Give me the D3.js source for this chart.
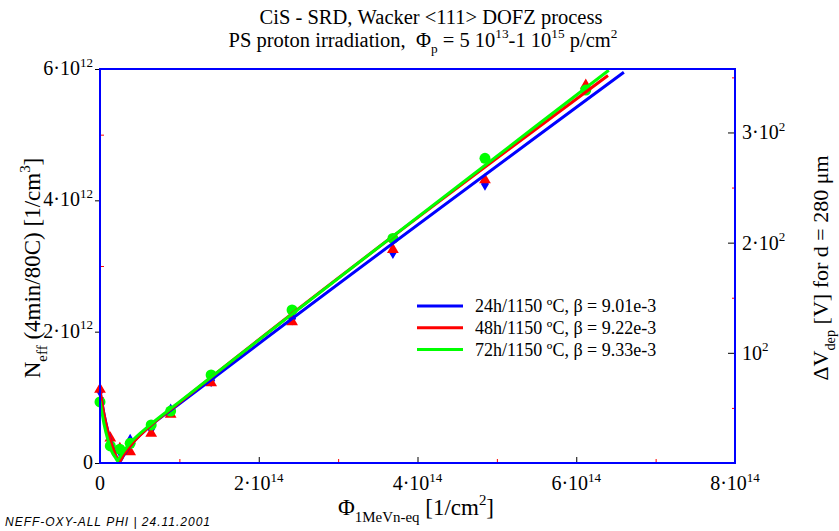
<!DOCTYPE html>
<html>
<head>
<meta charset="utf-8">
<script src="https://cdn.jsdelivr.net/npm/d3@7"></script>
</head>
<body style="margin:0">
<script>
// measured points (fluence in 1/cm2, Neff in 1/cm3)
const fluence = [0, 1.3e13, 2.5e13, 3.8e13, 6.45e13, 8.9e13, 1.4e14, 2.42e14, 3.69e14, 4.85e14, 6.12e14];
const neff24h = [1.10e12, 0.30e12, 0.18e12, 0.34e12, 0.52e12, 0.80e12, 1.26e12, 2.20e12, 3.21e12, 4.25e12, null];
const neff48h = [1.12e12, 0.38e12, 0.22e12, 0.17e12, 0.45e12, 0.74e12, 1.22e12, 2.15e12, 3.25e12, 4.31e12, 5.75e12];
const neff72h = [0.93e12, 0.26e12, 0.21e12, 0.30e12, 0.58e12, 0.79e12, 1.34e12, 2.33e12, 3.42e12, 4.64e12, 5.68e12];

// fit curves
const fit24hX = [0, 5e12, 1e13, 1.5e13, 2e13, 2.45e13, 3e13, 4e13, 6e13, 1e14, 6.6e14];
const fit24hY = [1.10e12, 0.75e12, 0.48e12, 0.27e12, 0.11e12, 0.02e12, 0.12e12, 0.29e12, 0.53e12, 0.90e12, 5.95e12];
const fit48hX = [0, 5e12, 1e13, 1.5e13, 2e13, 2.4e13, 3e13, 4e13, 6e13, 1e14, 6.4e14];
const fit48hY = [1.10e12, 0.74e12, 0.47e12, 0.27e12, 0.11e12, 0.02e12, 0.13e12, 0.29e12, 0.53e12, 0.92e12, 5.90e12];
const fit72hX = [0, 5e12, 1e13, 1.5e13, 2e13, 2.2e13, 2.5e13, 3e13, 4e13, 6e13, 1e14, 6.41e14];
const fit72hY = [0.95e12, 0.60e12, 0.35e12, 0.17e12, 0.07e12, 0.03e12, 0.09e12, 0.18e12, 0.33e12, 0.55e12, 0.93e12, 5.98e12];

const legendLabels = ['24h/1150 ºC, β = 9.01e-3', '48h/1150 ºC, β = 9.22e-3', '72h/1150 ºC, β = 9.33e-3'];

const xMajor = [0, 2e14, 4e14, 6e14, 8e14];
const xMinor = [1e14, 3e14, 5e14, 7e14];
const xTickLabels = [['0'], ['2·10', '14'], ['4·10', '14'], ['6·10', '14'], ['8·10', '14']];
const yMajor = [0, 2e12, 4e12, 6e12];
const yMinor = [1e12, 3e12, 5e12];
const yTickLabels = [['0'], ['2·10', '12'], ['4·10', '12'], ['6·10', '12']];
const vMajor = [100, 200, 300];
const vMinor = [50, 150, 250, 350];
const vTickLabels = [['10', '2'], ['2·10', '2'], ['3·10', '2']];

const voltPerNeff = 5.96e-11; // q d^2 / (2 eps) for d = 280 um

const margin = { top: 69, right: 104, bottom: 68, left: 100 };
const width = 839 - margin.left - margin.right;
const height = 531 - margin.top - margin.bottom;

const svg0 = d3.select('body')
  .append('svg')
  .attr('width', 839)
  .attr('height', 531);

const svg = svg0.append('g')
  .attr('transform', `translate(${margin.left}, ${margin.top})`);

const xScale = d3.scaleLinear().domain([0, 8e14]).range([0, width]);
const yScale = d3.scaleLinear().domain([0, 6e12]).range([height, 0]);
const vScale = d3.scaleLinear().domain([0, 6e12 * voltPerNeff]).range([height, 0]);

// text with sub/superscripts, pieces appended straight to the svg
// x, y in page coords; rot = true for vertical labels
function rich(x, y, anchor, parts, size, rot) {
  let cx = 0;
  const pieces = parts.map(([str, kind]) => {
    const dy = kind === 'sup' ? -0.42 * size : kind === 'sub' ? 0.3 * size : 0;
    const t = svg0.append('text')
      .style('font-family', '"Liberation Serif"')
      .style('font-size', `${kind ? size * 0.65 : size}px`)
      .text(str.replace(/ /g, '\u00A0'));
    const p = { t, x0: cx, dy };
    cx += t.node().getComputedTextLength();
    return p;
  });
  const off = anchor === 'middle' ? -cx / 2 : anchor === 'end' ? -cx : 0;
  pieces.forEach(p => {
    if (rot) {
      p.t.attr('transform', `translate(${x}, ${y}) rotate(-90)`)
        .attr('x', p.x0 + off).attr('y', p.dy);
    } else {
      p.t.attr('x', x + p.x0 + off).attr('y', y + p.dy);
    }
  });
}
const tickParts = l => l.length > 1 ? [[l[0]], [l[1], 'sup']] : [[l[0]]];

// axes ticks
function ticks(axis, cls, color) {
  const g = svg.append('g').attr('class', cls).call(axis);
  g.select('.domain').remove();
  g.selectAll('text').remove();
  g.selectAll('line').attr('stroke', color).attr('stroke-width', 1);
  return g;
}

ticks(d3.axisBottom(xScale).tickValues(xMajor).tickSize(-6), 'x major', '#000')
  .attr('transform', `translate(0, ${height})`);
ticks(d3.axisBottom(xScale).tickValues(xMinor).tickSize(-4), 'x minor', '#f00')
  .attr('transform', `translate(0, ${height})`);
ticks(d3.axisLeft(yScale).tickValues(yMajor).tickSize(5), 'y major', '#000');
ticks(d3.axisLeft(yScale).tickValues(yMinor).tickSize(-4), 'y minor', '#f00');
ticks(d3.axisRight(vScale).tickValues(vMajor).tickSize(-7), 'v major', '#000')
  .attr('transform', `translate(${width}, 0)`);
ticks(d3.axisRight(vScale).tickValues(vMinor).tickSize(-3), 'v minor', '#f00')
  .attr('transform', `translate(${width}, 0)`);

xMajor.forEach((v, i) => {
  rich(margin.left + xScale(v), margin.top + height + 27, 'middle', tickParts(xTickLabels[i]), 20);
});
yMajor.forEach((v, i) => {
  rich(margin.left - 7, margin.top + yScale(v) + 6, 'end', tickParts(yTickLabels[i]), 20);
});
vMajor.forEach((v, i) => {
  rich(margin.left + width + 7, margin.top + vScale(v) + 7, 'start', tickParts(vTickLabels[i]), 20);
});

const series = [
  { fx: fit24hX, fy: fit24hY, px: fluence, py: neff24h, color: '#0000ff', sym: d3.symbolDiamond, size: 55 },
  { fx: fit48hX, fy: fit48hY, px: fluence, py: neff48h, color: '#ff0000', sym: d3.symbolTriangle, size: 60 },
  { fx: fit72hX, fy: fit72hY, px: fluence, py: neff72h, color: '#00ff00', sym: d3.symbolCircle, size: 95 }
];

const line = d3.line()
  .x(d => xScale(d[0]))
  .y(d => yScale(d[1]))
  .curve(d3.curveMonotoneX);

// markers
series.forEach(s => {
  svg.append('g')
    .selectAll('path')
    .data(s.px.map((x, i) => [x, s.py[i]]).filter(d => d[1] != null))
    .enter()
    .append('path')
    .attr('transform', d => `translate(${xScale(d[0])}, ${yScale(d[1])})`)
    .attr('d', d3.symbol().type(s.sym).size(s.size))
    .attr('fill', s.color);
});

// fit curves
series.forEach(s => {
  svg.append('path')
    .datum(s.fx.map((x, i) => [x, s.fy[i]]))
    .attr('fill', 'none')
    .attr('stroke', s.color)
    .attr('stroke-width', 3)
    .attr('d', line);
});

// frame
svg.append('rect')
  .attr('width', width)
  .attr('height', height)
  .attr('fill', 'none')
  .attr('stroke', '#0000ff')
  .attr('stroke-width', 2);

// legend
series.forEach((s, i) => {
  const y = 237 + i * 21.8;
  svg.append('line')
    .attr('x1', 317).attr('x2', 363)
    .attr('y1', y).attr('y2', y)
    .attr('stroke', s.color)
    .attr('stroke-width', 3);
  rich(margin.left + 375, margin.top + y + 6, 'start', [[legendLabels[i]]], 18);
});

// titles
rich(431, 24, 'middle', [['CiS - SRD, Wacker <111> DOFZ process']], 20.5);
rich(423, 47, 'middle',
  [['PS proton irradiation,  Φ'], ['p', 'sub'], [' = 5 10'], ['13', 'sup'], ['-1 10'], ['15', 'sup'], [' p/cm'], ['2', 'sup']], 20.5);

rich(416, 515, 'middle', [['Φ'], ['1MeVn-eq', 'sub'], [' [1/cm'], ['2', 'sup'], [']']], 23);
rich(40, 268, 'middle', [['N'], ['eff', 'sub'], [' (4min/80C) [1/cm'], ['3', 'sup'], [']']], 23, true);
rich(828, 268, 'middle', [['ΔV'], ['dep', 'sub'], [' [V] for d = 280 μm']], 22, true);

svg0.append('text')
  .attr('x', 5).attr('y', 526)
  .style('font-family', '"Liberation Sans"')
  .style('font-style', 'italic')
  .style('font-size', '12px')
  .attr('textLength', 205)
  .text('NEFF-OXY-ALL PHI | 24.11.2001');
</script>
</body>
</html>
